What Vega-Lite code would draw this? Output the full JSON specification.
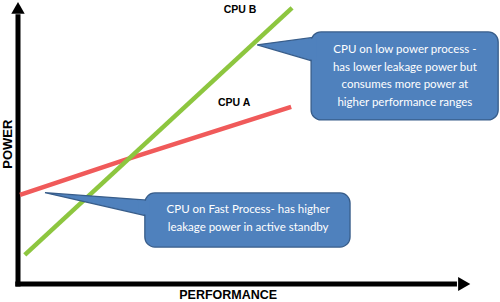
{
  "$schema": "https://vega.github.io/schema/vega-lite/v6.json",
  "width": 453,
  "height": 282,
  "autosize": {"type": "none"},
  "padding": {"left": 18, "top": 2, "right": 29, "bottom": 18},
  "background": "white",
  "config": {"view": {"stroke": null}},
  "datasets": {
    "axes": [
      {"name": "y-axis", "x": 0, "y": -0.9, "x2": 0, "y2": 95.7},
      {"name": "x-axis", "x": -0.6, "y": 0, "x2": 96.9, "y2": 0}
    ],
    "arrows": [
      {"name": "y-arrow", "x": 0, "y": 97.9},
      {"name": "x-arrow", "x": 98.5, "y": 0}
    ],
    "series": [
      {"cpu": "CPU A", "x": 0.44, "y": 31.6},
      {"cpu": "CPU A", "x": 23.6, "y": 44.0},
      {"cpu": "CPU A", "x": 60.3, "y": 62.8},
      {"cpu": "CPU B", "x": 1.5, "y": 10.3},
      {"cpu": "CPU B", "x": 60.5, "y": 97.9}
    ],
    "seriesLabels": [
      {"label": "CPU B", "x": 49.0, "y": 97.2},
      {"label": "CPU A", "x": 47.7, "y": 64.2}
    ],
    "pointers": [
      {"box": "low", "x": 52.8, "y": 84.8, "y2": 84.8},
      {"box": "low", "x": 65.8, "y": 87.6, "y2": 78.7},
      {"box": "fast", "x": 5.96, "y": 32.4, "y2": 32.4},
      {"box": "fast", "x": 29.1, "y": 29.7, "y2": 23.9}
    ],
    "pointerCovers": [
      {"box": "low", "x": 63.4, "y": 86.7, "y2": 80.2},
      {"box": "low", "x": 65.8, "y": 87.2, "y2": 79.1},
      {"box": "fast", "x": 26.5, "y": 29.7, "y2": 25.2},
      {"box": "fast", "x": 29.1, "y": 29.4, "y2": 24.3}
    ],
    "boxes": [
      {"box": "low", "x": 64.7, "x2": 106.0, "y": 89.4, "y2": 58.2},
      {"box": "fast", "x": 28.0, "x2": 73.3, "y": 32.3, "y2": 13.1}
    ],
    "boxText": [
      {"box": "low", "text": "CPU on low power process -", "x": 85.4, "y": 83.0},
      {"box": "low", "text": "has lower leakage power but", "x": 85.4, "y": 76.6},
      {"box": "low", "text": "consumes more power at", "x": 85.4, "y": 70.6},
      {"box": "low", "text": "higher performance ranges", "x": 85.4, "y": 64.2},
      {"box": "fast", "text": "CPU on Fast Process- has higher", "x": 50.8, "y": 26.2},
      {"box": "fast", "text": "leakage power in active standby", "x": 50.8, "y": 19.9}
    ],
    "titles": [
      {"title": "POWER", "x": -2.1, "y": 49.6},
      {"title": "PERFORMANCE", "x": 46.4, "y": -3.9}
    ]
  },
  "encoding": {
    "x": {"field": "x", "type": "quantitative", "scale": {"domain": [0, 100], "nice": false, "zero": false}, "axis": null},
    "y": {"field": "y", "type": "quantitative", "scale": {"domain": [0, 100], "nice": false, "zero": false}, "axis": null}
  },
  "layer": [
    {
      "data": {"name": "axes"},
      "mark": {"type": "rule", "color": "black", "strokeWidth": 5},
      "encoding": {
        "x2": {"field": "x2"},
        "y2": {"field": "y2"}
      }
    },
    {
      "data": {"name": "arrows"},
      "transform": [{"filter": "datum.name === 'y-arrow'"}],
      "mark": {"type": "point", "shape": "triangle-up", "filled": true, "color": "black", "size": 180, "opacity": 1}
    },
    {
      "data": {"name": "arrows"},
      "transform": [{"filter": "datum.name === 'x-arrow'"}],
      "mark": {"type": "point", "shape": "triangle-right", "filled": true, "color": "black", "size": 196, "opacity": 1}
    },
    {
      "data": {"name": "series"},
      "mark": {"type": "line", "strokeWidth": 4.5},
      "encoding": {
        "color": {"field": "cpu", "type": "nominal", "scale": {"domain": ["CPU A", "CPU B"], "range": ["#F05A5A", "#8DC63F"]}, "legend": null},
        "detail": {"field": "cpu"}
      }
    },
    {
      "data": {"name": "seriesLabels"},
      "mark": {"type": "text", "font": "Liberation Sans", "fontSize": 10.5, "fontWeight": "bold", "color": "black", "align": "center", "baseline": "middle"},
      "encoding": {"text": {"field": "label"}}
    },
    {
      "data": {"name": "pointers"},
      "mark": {"type": "area", "fill": "#4F81BD", "stroke": "#385D8A", "strokeWidth": 1.3, "opacity": 1},
      "encoding": {
        "y2": {"field": "y2"},
        "detail": {"field": "box"}
      }
    },
    {
      "data": {"name": "boxes"},
      "mark": {"type": "rect", "fill": "#4F81BD", "stroke": "#385D8A", "strokeWidth": 1.3, "cornerRadius": 10},
      "encoding": {
        "x2": {"field": "x2"},
        "y2": {"field": "y2"}
      }
    },
    {
      "data": {"name": "pointerCovers"},
      "mark": {"type": "area", "fill": "#4F81BD", "opacity": 1},
      "encoding": {
        "y2": {"field": "y2"},
        "detail": {"field": "box"}
      }
    },
    {
      "data": {"name": "boxText"},
      "mark": {"type": "text", "font": "Lato", "fontSize": 11.5, "color": "white", "align": "center", "baseline": "middle"},
      "encoding": {"text": {"field": "text"}}
    },
    {
      "data": {"name": "titles"},
      "transform": [{"filter": "datum.title === 'POWER'"}],
      "mark": {"type": "text", "font": "Liberation Sans", "fontSize": 13, "fontWeight": "bold", "color": "black", "align": "center", "baseline": "middle", "angle": 270},
      "encoding": {"text": {"field": "title"}}
    },
    {
      "data": {"name": "titles"},
      "transform": [{"filter": "datum.title === 'PERFORMANCE'"}],
      "mark": {"type": "text", "font": "Liberation Sans", "fontSize": 12.5, "fontWeight": "bold", "color": "black", "align": "center", "baseline": "middle"},
      "encoding": {"text": {"field": "title"}}
    }
  ]
}
